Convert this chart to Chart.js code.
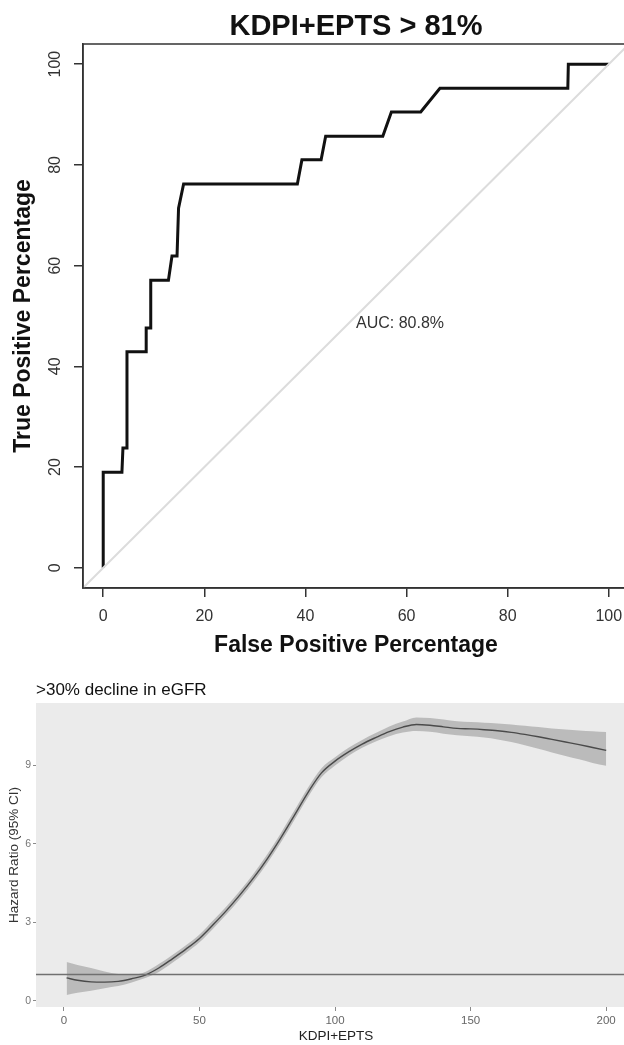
<!DOCTYPE html>
<html lang="en">
<head>
  <meta charset="UTF-8" />
  <title>KDPI+EPTS</title>
  <script src="https://cdn.jsdelivr.net/npm/chart.js"></script>
  <style>
    body { margin: 0; background: #fff; overflow: hidden; width: 624px; height: 1045px; }
    .wrap { position: absolute; left: 0; width: 624px; overflow: hidden; }
    #roc-wrap { top: 0; height: 660px; }
    #hr-wrap { top: 660px; height: 385px; }
    canvas { display: block; }
  </style>
</head>
<body>
  <div class="wrap" id="roc-wrap"><canvas id="roc" width="640" height="660"></canvas></div>
  <div class="wrap" id="hr-wrap"><canvas id="hr" width="640" height="385"></canvas></div>

  <script>
    // ROC curve (percent)
    const fpr = [0, 0, 3.7, 3.9, 4.7, 4.7, 8.5, 8.5, 9.4, 9.4, 12.9, 13.6, 14.6, 14.9, 15.9, 38.4, 39.3, 43.1, 44.0, 55.3, 57.0, 62.8, 66.6, 91.9, 92.0, 100];
    const tpr = [0, 19.0, 19.0, 23.8, 23.8, 42.9, 42.9, 47.6, 47.6, 57.1, 57.1, 61.9, 61.9, 71.4, 76.2, 76.2, 81.0, 81.0, 85.7, 85.7, 90.5, 90.5, 95.2, 95.2, 100, 100];
    const rocRange = [-4, 104];
    const rocTicks = [0, 20, 40, 60, 80, 100];
    const aucLabel = "AUC: 80.8%";
    const aucPos = [50, 50];

    // hazard ratio spline
    const kdpi    = [1, 5, 10, 15, 20, 25, 30, 35, 40, 45, 50, 55, 60, 65, 70, 75, 80, 85, 90, 95, 100, 105, 110, 115, 120, 125, 130, 135, 140, 145, 150, 155, 160, 165, 170, 175, 180, 185, 190, 195, 200];
    const hr      = [0.87, 0.78, 0.72, 0.71, 0.74, 0.84, 0.98, 1.25, 1.6, 1.97, 2.38, 2.9, 3.45, 4.05, 4.7, 5.42, 6.22, 7.08, 7.95, 8.7, 9.15, 9.5, 9.8, 10.05, 10.28, 10.45, 10.55, 10.52, 10.46, 10.4, 10.38, 10.35, 10.31, 10.25, 10.17, 10.08, 9.98, 9.88, 9.78, 9.67, 9.56];
    const hrLower = [0.22, 0.3, 0.38, 0.48, 0.56, 0.7, 0.87, 1.1, 1.45, 1.82, 2.23, 2.75, 3.3, 3.89, 4.54, 5.25, 6.04, 6.9, 7.77, 8.53, 8.98, 9.36, 9.66, 9.9, 10.1, 10.24, 10.3, 10.27, 10.2, 10.14, 10.1, 10.05, 9.98, 9.88, 9.76, 9.62, 9.48, 9.35, 9.22, 9.08, 8.97];
    const hrUpper = [1.48, 1.36, 1.25, 1.12, 1.02, 1.0, 1.1, 1.4, 1.75, 2.12, 2.53, 3.06, 3.61, 4.21, 4.86, 5.59, 6.4, 7.26, 8.13, 8.88, 9.3, 9.66, 9.96, 10.22, 10.47, 10.66, 10.82, 10.8, 10.74, 10.67, 10.64, 10.62, 10.59, 10.55, 10.5, 10.45, 10.4, 10.36, 10.32, 10.29, 10.26];
    const kdpiRange = [-10.3, 211];
    const hrRange = [-0.24, 11.37];
    const kdpiTicks = [0, 50, 100, 150, 200];
    const hrTicks = [0, 3, 6, 9];
    const refHR = 1;

    Chart.defaults.font.family = "'Liberation Sans', Arial, sans-serif";

    const pts = (xs, ys) => xs.map((x, i) => ({ x: x, y: ys[i] }));
    const setTicks = vals => s => { s.ticks = vals.map(v => ({ value: v })); };

    const boxPlugin = {
      id: 'box',
      afterDraw(chart) {
        const a = chart.chartArea, ctx = chart.ctx;
        ctx.save();
        ctx.strokeStyle = '#333';
        ctx.lineWidth = 1.5;
        ctx.strokeRect(a.left, a.top, a.right - a.left, a.bottom - a.top);
        ctx.restore();
      }
    };

    const aucPlugin = {
      id: 'auc',
      afterDatasetsDraw(chart) {
        const ctx = chart.ctx;
        const x = chart.scales.x.getPixelForValue(aucPos[0]);
        const y = chart.scales.y.getPixelForValue(aucPos[1]);
        ctx.save();
        ctx.font = "16px 'Liberation Sans', Arial, sans-serif";
        ctx.fillStyle = '#333';
        ctx.textAlign = 'left';
        ctx.textBaseline = 'alphabetic';
        ctx.fillText(aucLabel, x, y + 11.5);
        ctx.restore();
      }
    };

    new Chart(document.getElementById('roc'), {
      type: 'line',
      data: {
        datasets: [
          { data: pts(rocRange, rocRange), borderColor: '#dcdcdc', borderWidth: 2, pointRadius: 0 },
          { data: pts(fpr, tpr), borderColor: '#111', borderWidth: 3, pointRadius: 0, tension: 0 }
        ]
      },
      options: {
        responsive: false,
        devicePixelRatio: 1,
        animation: false,
        layout: { padding: { top: 0, left: 0, right: 11, bottom: 0 } },
        plugins: {
          legend: { display: false },
          tooltip: { enabled: false },
          title: {
            display: true, text: 'KDPI+EPTS > 81%', fullSize: false,
            font: { size: 29, weight: 'bold' }, color: '#111',
            padding: { top: 9.2, bottom: 0 }
          }
        },
        scales: {
          x: {
            type: 'linear', min: rocRange[0], max: rocRange[1],
            afterBuildTicks: setTicks(rocTicks),
            afterFit: s => { s.height = 72; },
            grid: { drawOnChartArea: false, drawTicks: true, tickLength: 9, color: '#333', lineWidth: 1.5 },
            border: { display: true, color: '#333', width: 1.5 },
            ticks: { font: { size: 16 }, color: '#333', padding: 10, autoSkip: false, maxRotation: 0 },
            title: {
              display: true, text: 'False Positive Percentage',
              font: { size: 23, weight: 'bold' }, color: '#111',
              padding: { top: 0, bottom: 1 }
            }
          },
          y: {
            type: 'linear', min: rocRange[0], max: rocRange[1],
            afterBuildTicks: setTicks(rocTicks),
            afterFit: s => { s.width = 83; },
            grid: { drawOnChartArea: false, drawTicks: true, tickLength: 9, color: '#333', lineWidth: 1.5 },
            border: { display: true, color: '#333', width: 1.5 },
            ticks: { font: { size: 16 }, color: '#333', padding: 5, autoSkip: false, minRotation: 90, maxRotation: 90, crossAlign: 'center' },
            title: {
              display: true, text: 'True Positive Percentage',
              font: { size: 23, weight: 'bold' }, color: '#111',
              padding: { top: 10, bottom: 0 }
            }
          }
        }
      },
      plugins: [boxPlugin, aucPlugin]
    });

    const panelPlugin = {
      id: 'panel',
      beforeDatasetsDraw(chart) {
        const a = chart.chartArea, ctx = chart.ctx;
        ctx.save();
        ctx.fillStyle = '#ebebeb';
        ctx.fillRect(a.left, a.top, a.right - a.left, a.bottom - a.top);
        ctx.restore();
      }
    };

    const refLinePlugin = {
      id: 'refline',
      afterDatasetsDraw(chart) {
        const a = chart.chartArea, ctx = chart.ctx;
        const y = chart.scales.y.getPixelForValue(refHR);
        ctx.save();
        ctx.strokeStyle = '#707070';
        ctx.lineWidth = 1.5;
        ctx.beginPath();
        ctx.moveTo(a.left, y);
        ctx.lineTo(a.right, y);
        ctx.stroke();
        ctx.restore();
      }
    };

    new Chart(document.getElementById('hr'), {
      type: 'line',
      data: {
        datasets: [
          { data: pts(kdpi, hrLower), borderWidth: 0, pointRadius: 0, fill: false, cubicInterpolationMode: 'monotone' },
          { data: pts(kdpi, hrUpper), borderWidth: 0, pointRadius: 0, fill: '-1', backgroundColor: 'rgba(128,128,128,0.45)', cubicInterpolationMode: 'monotone' },
          { data: pts(kdpi, hr), borderColor: '#1e1e1e', borderWidth: 1.4, pointRadius: 0, fill: false, cubicInterpolationMode: 'monotone' }
        ]
      },
      options: {
        responsive: false,
        devicePixelRatio: 1,
        animation: false,
        layout: { padding: { top: 0, left: 0, right: 4, bottom: 0 } },
        plugins: {
          legend: { display: false },
          tooltip: { enabled: false },
          title: {
            display: true, text: '>30% decline in eGFR', align: 'start', fullSize: false,
            font: { size: 17, weight: 'normal' }, color: '#111',
            padding: { top: 20, bottom: 2.6 }
          }
        },
        scales: {
          x: {
            type: 'linear', min: kdpiRange[0], max: kdpiRange[1],
            afterBuildTicks: setTicks(kdpiTicks),
            afterFit: s => { s.height = 38; },
            grid: { drawOnChartArea: false, drawTicks: true, tickLength: 4, color: '#8a8a8a', lineWidth: 1 },
            border: { display: false },
            ticks: { font: { size: 11.5 }, color: '#666', padding: 3, autoSkip: false, maxRotation: 0 },
            title: {
              display: true, text: 'KDPI+EPTS',
              font: { size: 13.5 }, color: '#222',
              padding: { top: 0, bottom: 1 }
            }
          },
          y: {
            type: 'linear', min: hrRange[0], max: hrRange[1],
            afterBuildTicks: setTicks(hrTicks),
            afterFit: s => { s.width = 36; },
            grid: { drawOnChartArea: false, drawTicks: true, tickLength: 3, color: '#8a8a8a', lineWidth: 1 },
            border: { display: false },
            ticks: { font: { size: 10.5 }, color: '#777', padding: 2, autoSkip: false },
            title: {
              display: true, text: 'Hazard Ratio (95% CI)',
              font: { size: 13.5 }, color: '#333',
              padding: { top: 6, bottom: 0 }
            }
          }
        }
      },
      plugins: [panelPlugin, refLinePlugin]
    });
  </script>
</body>
</html>
